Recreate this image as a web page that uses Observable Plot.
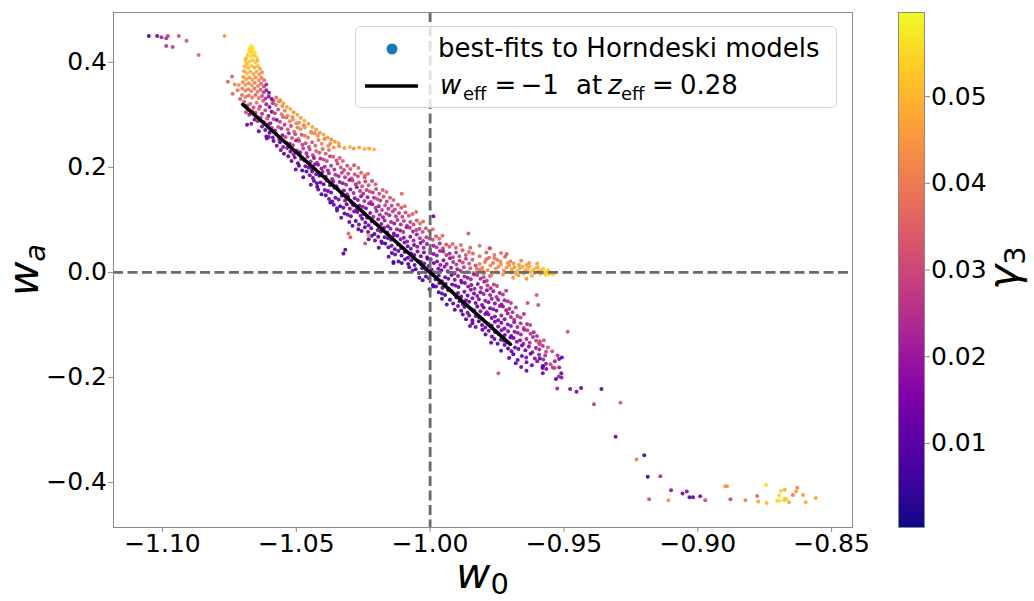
<!DOCTYPE html>
<html><head><meta charset="utf-8">
<script src="https://cdn.jsdelivr.net/npm/d3@7"></script>
<script src="https://cdn.jsdelivr.net/npm/@observablehq/plot@0.6"></script>
<style>
html,body{margin:0;padding:0;background:#fff;}
#wrap{position:relative;width:1034px;height:601px;overflow:hidden;font-family:"DejaVu Sans",sans-serif;}
#wrap svg{position:absolute;top:0;}
</style></head><body><div id="wrap"></div>
<script>
// ---- tick labels / scales ----
const xTicks = [-1.10, -1.05, -1.00, -0.95, -0.90, -0.85];
const yTicks = [-0.4, -0.2, 0.0, 0.2, 0.4];
const cbTicks = [0.01, 0.02, 0.03, 0.04, 0.05];
const cbDomain = [0.0003, 0.0597];
// reference line w_eff = -1 at z_eff = 0.28
const effW0 = [-1.07, -0.97];
const effWa = [0.32, -0.137];
const legendLabels = ["best-fits to Horndeski models", "w_eff = −1 at z_eff = 0.28"];

// ---- best-fit points: [w0, wa, gamma3] ----
const bandPts = [
[-1.0695,.325,.034],[-1.0683,.318,.028],[-1.0672,.321,.036],[-1.0660,.314,.031],[-1.0648,.323,.038],[-1.0636,.316,.026],[-1.0624,.327,.033],[-1.0612,.320,.020],[-1.0600,.315,.016],[-1.0588,.322,.024],[-1.0576,.319,.035],[-1.0563,.326,.040],[-1.0552,.317,.042],
[-1.0688,.305,.030],[-1.0676,.300,.022],[-1.0664,.307,.034],[-1.0652,.304,.027],[-1.0640,.311,.035],[-1.0628,.302,.024],[-1.0616,.309,.031],[-1.0604,.298,.018],[-1.0592,.306,.014],[-1.0580,.303,.026],[-1.0568,.310,.033],[-1.0555,.301,.038],[-1.0543,.308,.041],[-1.0532,.299,.044],
[-1.0668,.283,.018],[-1.0656,.291,.012],[-1.0645,.288,.024],[-1.0633,.295,.030],[-1.0621,.286,.022],[-1.0609,.293,.033],[-1.0597,.284,.019],[-1.0585,.292,.027],[-1.0573,.290,.015],[-1.0561,.287,.029],[-1.0549,.296,.034],[-1.0537,.295,.037],[-1.0524,.288,.040],[-1.0512,.291,.043],[-1.0500,.284,.041],
[-1.0640,.269,.010],[-1.0628,.278,.016],[-1.0616,.271,.013],[-1.0604,.282,.021],[-1.0592,.275,.026],[-1.0580,.270,.018],[-1.0568,.277,.031],[-1.0556,.274,.023],[-1.0544,.281,.028],[-1.0532,.272,.033],[-1.0520,.279,.030],[-1.0508,.268,.036],[-1.0496,.276,.039],[-1.0484,.273,.042],[-1.0472,.280,.040],
[-1.0612,.259,.011],[-1.0600,.266,.008],[-1.0588,.257,.015],[-1.0576,.264,.019],[-1.0564,.253,.024],[-1.0552,.261,.017],[-1.0540,.258,.027],[-1.0528,.265,.021],[-1.0516,.256,.032],[-1.0504,.263,.029],[-1.0492,.254,.035],[-1.0480,.262,.033],[-1.0468,.260,.038],[-1.0456,.257,.040],[-1.0444,.266,.043],[-1.0432,.265,.041],
[-1.0585,.250,.010],[-1.0573,.241,.014],[-1.0561,.248,.009],[-1.0549,.239,.018],[-1.0537,.247,.022],[-1.0525,.245,.016],[-1.0513,.242,.025],[-1.0501,.251,.020],[-1.0489,.250,.029],[-1.0477,.243,.026],[-1.0465,.246,.031],[-1.0453,.239,.028],[-1.0441,.248,.034],[-1.0429,.241,.036],[-1.0417,.252,.039],[-1.0405,.245,.041],
[-1.0558,.233,.012],[-1.0546,.226,.008],[-1.0534,.237,.016],[-1.0522,.230,.013],[-1.0510,.225,.019],[-1.0498,.232,.024],[-1.0486,.229,.017],[-1.0474,.236,.027],[-1.0462,.227,.022],[-1.0450,.234,.030],[-1.0438,.223,.026],[-1.0426,.231,.033],[-1.0414,.228,.031],[-1.0402,.235,.036],[-1.0390,.226,.034],[-1.0378,.233,.038],
[-1.0530,.221,.009],[-1.0518,.212,.012],[-1.0506,.219,.015],[-1.0494,.208,.011],[-1.0482,.216,.018],[-1.0470,.213,.016],[-1.0458,.220,.020],[-1.0446,.211,.023],[-1.0434,.218,.018],[-1.0422,.209,.025],[-1.0410,.217,.022],[-1.0398,.215,.028],[-1.0386,.212,.030],[-1.0374,.221,.027],[-1.0362,.220,.033],[-1.0350,.213,.031],[-1.0338,.218,.032],[-1.0326,.212,.035],
[-1.0502,.196,.013],[-1.0490,.203,.010],[-1.0478,.194,.007],[-1.0466,.202,.014],[-1.0454,.200,.012],[-1.0442,.197,.017],[-1.0430,.206,.015],[-1.0418,.205,.020],[-1.0406,.198,.018],[-1.0394,.201,.022],[-1.0382,.194,.020],[-1.0370,.203,.026],[-1.0358,.196,.024],[-1.0346,.207,.029],[-1.0334,.200,.031],[-1.0322,.195,.028],[-1.0310,.203,.030],[-1.0298,.197,.033],[-1.0284,.204,.031],[-1.0268,.199,.036],
[-1.0474,.181,.011],[-1.0462,.192,.008],[-1.0450,.185,.014],[-1.0438,.180,.012],[-1.0426,.187,.016],[-1.0414,.184,.009],[-1.0402,.191,.018],[-1.0390,.182,.016],[-1.0378,.189,.021],[-1.0366,.178,.019],[-1.0354,.186,.024],[-1.0342,.183,.022],[-1.0330,.190,.027],[-1.0318,.181,.025],[-1.0306,.188,.030],[-1.0294,.179,.028],[-1.0282,.187,.032],[-1.0270,.183,.030],[-1.0258,.190,.033],[-1.0245,.181,.031],[-1.0232,.188,.037],
[-1.0446,.167,.012],[-1.0434,.174,.010],[-1.0422,.163,.006],[-1.0410,.171,.014],[-1.0398,.168,.011],[-1.0386,.175,.016],[-1.0374,.166,.013],[-1.0362,.173,.018],[-1.0350,.164,.016],[-1.0338,.172,.020],[-1.0326,.170,.018],[-1.0314,.167,.023],[-1.0302,.176,.020],[-1.0290,.175,.026],[-1.0278,.168,.024],[-1.0266,.171,.029],[-1.0254,.164,.031],[-1.0242,.173,.028],[-1.0230,.166,.032],[-1.0217,.174,.030],[-1.0204,.168,.035],
[-1.0418,.158,.012],[-1.0406,.149,.007],[-1.0394,.157,.014],[-1.0382,.155,.011],[-1.0370,.152,.013],[-1.0358,.161,.016],[-1.0346,.160,.009],[-1.0334,.153,.018],[-1.0322,.156,.015],[-1.0310,.149,.020],[-1.0298,.158,.017],[-1.0286,.151,.022],[-1.0274,.162,.019],[-1.0262,.155,.025],[-1.0250,.150,.023],[-1.0238,.157,.028],[-1.0226,.154,.030],[-1.0214,.152,.027],[-1.0202,.159,.031],[-1.0190,.150,.029],[-1.0177,.157,.033],[-1.0163,.153,.036],
[-1.0390,.147,.010],[-1.0378,.140,.013],[-1.0366,.135,.008],[-1.0354,.142,.012],[-1.0342,.139,.015],[-1.0330,.146,.010],[-1.0318,.137,.016],[-1.0306,.144,.014],[-1.0294,.133,.018],[-1.0282,.141,.016],[-1.0270,.138,.020],[-1.0258,.145,.018],[-1.0246,.136,.023],[-1.0234,.143,.020],[-1.0222,.134,.026],[-1.0210,.142,.024],[-1.0198,.140,.029],[-1.0186,.137,.026],[-1.0174,.144,.030],[-1.0162,.135,.028],[-1.0150,.142,.032],[-1.0137,.138,.035],
[-1.0360,.129,.012],[-1.0348,.118,.009],[-1.0336,.126,.006],[-1.0324,.123,.014],[-1.0312,.130,.011],[-1.0300,.121,.016],[-1.0288,.128,.012],[-1.0276,.119,.017],[-1.0264,.127,.014],[-1.0252,.125,.019],[-1.0240,.122,.016],[-1.0228,.131,.021],[-1.0216,.130,.018],[-1.0204,.123,.024],[-1.0192,.126,.020],[-1.0180,.119,.027],[-1.0168,.128,.030],[-1.0156,.121,.025],[-1.0144,.127,.027],[-1.0132,.120,.029],[-1.0120,.129,.031],[-1.0108,.123,.033],[-1.0095,.126,.036],
[-1.0332,.104,.011],[-1.0320,.112,.007],[-1.0308,.110,.013],[-1.0296,.107,.010],[-1.0284,.116,.014],[-1.0272,.115,.012],[-1.0260,.108,.016],[-1.0248,.111,.014],[-1.0236,.104,.018],[-1.0224,.113,.016],[-1.0212,.106,.020],[-1.0200,.117,.018],[-1.0188,.110,.022],[-1.0176,.105,.020],[-1.0164,.112,.025],[-1.0152,.109,.023],[-1.0140,.116,.028],[-1.0128,.107,.026],[-1.0116,.113,.025],[-1.0104,.106,.028],[-1.0092,.114,.030],[-1.0080,.108,.032],[-1.0066,.111,.035],[-1.0052,.115,.037],
[-1.0302,.096,.012],[-1.0290,.089,.008],[-1.0278,.098,.005],[-1.0266,.091,.012],[-1.0254,.102,.010],[-1.0242,.095,.014],[-1.0230,.090,.012],[-1.0218,.097,.016],[-1.0206,.094,.014],[-1.0194,.101,.018],[-1.0182,.092,.016],[-1.0170,.099,.020],[-1.0158,.088,.017],[-1.0146,.096,.022],[-1.0134,.093,.019],[-1.0122,.100,.025],[-1.0110,.091,.023],[-1.0098,.098,.028],[-1.0086,.089,.026],[-1.0074,.096,.028],[-1.0062,.091,.030],[-1.0050,.099,.032],[-1.0038,.093,.035],[-1.0026,.097,.037],
[-1.0268,.082,.010],[-1.0256,.079,.012],[-1.0244,.086,.007],[-1.0232,.077,.011],[-1.0220,.084,.014],[-1.0208,.073,.009],[-1.0196,.081,.015],[-1.0184,.078,.012],[-1.0172,.085,.017],[-1.0160,.076,.014],[-1.0148,.083,.018],[-1.0136,.074,.016],[-1.0124,.082,.020],[-1.0112,.080,.018],[-1.0100,.077,.023],[-1.0088,.086,.020],[-1.0076,.085,.025],[-1.0064,.078,.022],[-1.0052,.081,.027],[-1.0040,.083,.028],[-1.0028,.077,.030],[-1.0016,.084,.032],[-1.0004,.079,.035],[-0.9990,.082,.037],
[-1.0230,.063,.009],[-1.0218,.070,.006],[-1.0206,.061,.012],[-1.0194,.068,.008],[-1.0182,.059,.013],[-1.0170,.067,.011],[-1.0158,.065,.014],[-1.0146,.062,.012],[-1.0134,.071,.016],[-1.0122,.070,.014],[-1.0110,.063,.018],[-1.0098,.066,.016],[-1.0086,.059,.020],[-1.0074,.068,.017],[-1.0062,.061,.021],[-1.0050,.072,.019],[-1.0038,.065,.024],[-1.0026,.060,.022],[-1.0014,.067,.026],[-1.0002,.064,.029],[-0.9990,.062,.030],[-0.9978,.069,.032],[-0.9966,.064,.035],[-0.9954,.070,.036],
[-1.0192,.047,.008],[-1.0180,.056,.011],[-1.0168,.055,.006],[-1.0156,.048,.010],[-1.0144,.051,.012],[-1.0132,.044,.009],[-1.0120,.053,.014],[-1.0108,.046,.012],[-1.0096,.057,.015],[-1.0084,.050,.013],[-1.0072,.045,.016],[-1.0060,.052,.014],[-1.0048,.049,.018],[-1.0036,.056,.016],[-1.0024,.047,.020],[-1.0012,.054,.018],[-1.0000,.043,.022],[-0.9988,.051,.020],[-0.9976,.048,.025],[-0.9964,.055,.023],[-0.9952,.046,.028],[-0.9940,.053,.031],[-0.9928,.049,.032],[-0.9916,.054,.035],[-0.9904,.047,.036],[-0.9885,.052,.037],[-0.9850,.047,.035],[-0.9815,.051,.038],[-0.9778,.046,.036],
[-1.0155,.030,.010],[-1.0143,.037,.007],[-1.0131,.034,.012],[-1.0119,.041,.009],[-1.0107,.032,.005],[-1.0095,.039,.012],[-1.0083,.028,.010],[-1.0071,.036,.014],[-1.0059,.033,.012],[-1.0047,.040,.015],[-1.0035,.031,.013],[-1.0023,.038,.016],[-1.0011,.029,.014],[-0.9999,.037,.018],[-0.9987,.035,.016],[-0.9975,.032,.019],[-0.9963,.041,.021],[-0.9951,.040,.020],[-0.9939,.033,.024],[-0.9927,.036,.022],[-0.9915,.029,.027],[-0.9903,.038,.025],[-0.9891,.031,.030],[-0.9879,.042,.032],[-0.9867,.033,.033],[-0.9855,.039,.036],[-0.9840,.036,.036],[-0.9815,.031,.037],[-0.9790,.038,.035],[-0.9760,.033,.038],[-0.9735,.037,.036],
[-1.0118,.021,.009],[-1.0106,.018,.006],[-1.0094,.025,.011],[-1.0082,.016,.008],[-1.0070,.023,.012],[-1.0058,.014,.010],[-1.0046,.022,.004],[-1.0034,.020,.012],[-1.0022,.017,.014],[-1.0010,.026,.011],[-0.9998,.025,.015],[-0.9986,.018,.013],[-0.9974,.021,.016],[-0.9962,.014,.018],[-0.9950,.023,.017],[-0.9938,.016,.020],[-0.9926,.027,.019],[-0.9914,.020,.023],[-0.9902,.015,.026],[-0.9890,.022,.024],[-0.9878,.019,.029],[-0.9866,.026,.027],[-0.9854,.017,.031],[-0.9842,.024,.033],[-0.9830,.013,.030],
[-1.0078,.010,.008],[-1.0066,.003,.011],[-1.0054,.006,.006],[-1.0042,-.001,.009],[-1.0030,.008,.012],[-1.0018,.001,.007],[-1.0006,.012,.012],[-0.9994,.005,.014],[-0.9982,.000,.010],[-0.9970,.007,.015],[-0.9958,.004,.013],[-0.9946,.011,.017],[-0.9934,.002,.016],[-0.9922,.009,.019],[-0.9910,-.002,.021],[-0.9898,.006,.020],[-0.9886,.003,.024],[-0.9874,.010,.026],[-0.9862,.001,.029],[-0.9850,.008,.032],[-0.9838,-.001,.035],[-0.9826,.007,.038],[-0.9814,.005,.037],[-0.9802,.002,.040],
[-1.0040,-.010,.009],[-1.0028,-.015,.006],[-1.0016,-.008,.011],[-1.0004,-.011,.008],[-0.9992,-.004,.004],[-0.9980,-.013,.012],[-0.9968,-.006,.009],[-0.9956,-.017,.013],[-0.9944,-.009,.011],[-0.9932,-.012,.014],[-0.9920,-.005,.012],[-0.9908,-.014,.016],[-0.9896,-.007,.018],[-0.9884,-.016,.016],[-0.9872,-.008,.020],[-0.9860,-.010,.018],[-0.9848,-.013,.022],[-0.9836,-.004,.020],[-0.9824,-.005,.025],[-0.9812,-.012,.023],[-0.9800,-.009,.028],[-0.9788,-.016,.026],[-0.9776,-.007,.031],
[-1.0002,-.032,.008],[-0.9990,-.024,.005],[-0.9978,-.027,.010],[-0.9966,-.020,.007],[-0.9954,-.029,.012],[-0.9942,-.022,.009],[-0.9930,-.031,.013],[-0.9918,-.023,.011],[-0.9906,-.025,.014],[-0.9894,-.028,.012],[-0.9882,-.019,.016],[-0.9870,-.020,.014],[-0.9858,-.027,.018],[-0.9846,-.024,.016],[-0.9834,-.031,.020],[-0.9822,-.022,.018],[-0.9810,-.029,.022],[-0.9798,-.018,.020],[-0.9786,-.025,.024],[-0.9774,-.030,.022],[-0.9762,-.023,.026],[-0.9750,-.026,.028],
[-0.9968,-.038,.007],[-0.9956,-.040,.011],[-0.9944,-.043,.005],[-0.9932,-.034,.009],[-0.9920,-.035,.012],[-0.9908,-.042,.010],[-0.9896,-.039,.014],[-0.9884,-.046,.012],[-0.9872,-.037,.015],[-0.9860,-.044,.013],[-0.9848,-.033,.016],[-0.9836,-.040,.014],[-0.9824,-.045,.018],[-0.9812,-.038,.016],[-0.9800,-.041,.019],[-0.9788,-.034,.017],[-0.9776,-.043,.020],[-0.9764,-.036,.018],[-0.9752,-.047,.022],[-0.9740,-.039,.020],[-0.9728,-.042,.024],[-0.9716,-.035,.026],
[-0.9938,-.061,.009],[-0.9926,-.052,.006],[-0.9914,-.059,.011],[-0.9902,-.048,.008],[-0.9890,-.055,.012],[-0.9878,-.060,.010],[-0.9866,-.053,.014],[-0.9854,-.056,.012],[-0.9842,-.049,.015],[-0.9830,-.058,.013],[-0.9818,-.051,.016],[-0.9806,-.062,.014],[-0.9794,-.054,.018],[-0.9782,-.057,.016],[-0.9770,-.050,.019],[-0.9758,-.059,.017],[-0.9746,-.052,.020],[-0.9734,-.061,.018],[-0.9722,-.053,.022],[-0.9710,-.055,.024],[-0.9698,-.058,.026],
[-0.9908,-.071,.008],[-0.9896,-.064,.012],[-0.9884,-.073,.006],[-0.9872,-.066,.010],[-0.9860,-.077,.013],[-0.9848,-.069,.011],[-0.9836,-.072,.014],[-0.9824,-.065,.012],[-0.9812,-.074,.016],[-0.9800,-.067,.014],[-0.9788,-.076,.017],[-0.9776,-.068,.015],[-0.9764,-.070,.018],[-0.9752,-.073,.016],[-0.9740,-.064,.020],[-0.9728,-.065,.018],[-0.9716,-.072,.021],[-0.9704,-.069,.023],[-0.9692,-.076,.025],[-0.9680,-.067,.027],
[-0.9878,-.080,.010],[-0.9866,-.089,.007],[-0.9854,-.082,.012],[-0.9842,-.091,.009],[-0.9830,-.083,.013],[-0.9818,-.085,.011],[-0.9806,-.088,.014],[-0.9794,-.079,.012],[-0.9782,-.080,.016],[-0.9770,-.087,.014],[-0.9758,-.084,.017],[-0.9746,-.091,.015],[-0.9734,-.082,.018],[-0.9722,-.089,.016],[-0.9710,-.078,.020],[-0.9698,-.085,.021],[-0.9686,-.090,.023],[-0.9674,-.083,.025],[-0.9662,-.086,.027],[-0.9650,-.079,.024],
[-0.9842,-.097,.009],[-0.9830,-.104,.012],[-0.9818,-.093,.007],[-0.9806,-.100,.011],[-0.9794,-.105,.013],[-0.9782,-.098,.010],[-0.9770,-.101,.014],[-0.9758,-.094,.012],[-0.9746,-.103,.016],[-0.9734,-.096,.014],[-0.9722,-.107,.017],[-0.9710,-.099,.015],[-0.9698,-.102,.018],[-0.9686,-.095,.020],[-0.9674,-.104,.022],[-0.9662,-.097,.024],[-0.9650,-.106,.026],[-0.9638,-.098,.023],[-0.9626,-.100,.028],
[-0.9805,-.109,.011],[-0.9793,-.118,.008],[-0.9781,-.111,.012],[-0.9769,-.122,.010],[-0.9757,-.114,.014],[-0.9745,-.117,.012],[-0.9733,-.110,.015],[-0.9721,-.119,.013],[-0.9709,-.112,.016],[-0.9697,-.121,.014],[-0.9685,-.113,.018],[-0.9673,-.115,.020],[-0.9661,-.118,.021],[-0.9649,-.109,.023],[-0.9637,-.110,.025],[-0.9625,-.117,.027],[-0.9613,-.114,.022],[-0.9601,-.121,.026],
[-0.9772,-.134,.010],[-0.9760,-.127,.012],[-0.9748,-.136,.008],[-0.9736,-.128,.012],[-0.9724,-.130,.014],[-0.9712,-.133,.011],[-0.9700,-.124,.015],[-0.9688,-.125,.013],[-0.9676,-.132,.016],[-0.9664,-.129,.018],[-0.9652,-.136,.020],[-0.9640,-.127,.022],[-0.9628,-.134,.025],[-0.9616,-.123,.023],[-0.9604,-.130,.027],[-0.9592,-.135,.020],
[-0.9735,-.149,.009],[-0.9722,-.138,.012],[-0.9709,-.145,.007],[-0.9696,-.150,.011],[-0.9683,-.143,.013],[-0.9670,-.146,.010],[-0.9657,-.139,.014],[-0.9644,-.148,.012],[-0.9631,-.141,.016],[-0.9618,-.152,.018],[-0.9605,-.144,.020],[-0.9592,-.147,.023],[-0.9579,-.140,.025],
[-0.9705,-.163,.011],[-0.9689,-.156,.008],[-0.9673,-.167,.013],[-0.9657,-.159,.012],[-0.9641,-.162,.016],[-0.9625,-.155,.014],[-0.9609,-.164,.018],[-0.9593,-.157,.020],[-0.9577,-.166,.023],
[-0.9680,-.173,.010],[-0.9660,-.180,.012],[-0.9640,-.171,.014],[-0.9620,-.177,.012],[-0.9600,-.169,.017],[-0.9580,-.179,.020]
];
const outlierPts = [
[-0.9745,-.192,.033],[-0.9640,-.187,.012],[-0.9596,-.062,.031],[-0.9602,-.043,.032],[-0.9636,-.058,.030],[-0.9857,.074,.034],[-0.9988,.107,.012],[-1.0137,.020,.008],[-0.9956,-.050,.008],[-0.9851,-.102,.012],[-0.9988,-.027,.006],[-1.0373,.133,.010],[-1.0348,.122,.012],[-1.0305,.074,.035],[-1.0298,.067,.033],[-1.0230,.071,.045],[-1.0317,.043,.010],[-1.0324,.036,.009],[-1.0243,.055,.031],[-1.0137,.018,.007],[-1.0243,.185,.038],[-1.0106,.150,.036],[-1.0441,.192,.012],[-1.0423,.170,.010]
];
const armPts = [
[-1.0585,.327,.030],[-1.0575,.333,.036],[-1.0565,.326,.039],
[-1.0560,.328,.045],[-1.0548,.322,.047],[-1.0535,.315,.046],[-1.0522,.311,.048],[-1.0510,.305,.045],[-1.0496,.300,.047],[-1.0483,.294,.046],[-1.0470,.289,.048],[-1.0455,.283,.045],[-1.0440,.277,.047],[-1.0426,.272,.046],[-1.0412,.266,.044],[-1.0398,.262,.046],[-1.0384,.257,.045],[-1.0370,.253,.043],[-1.0356,.249,.045],[-1.0342,.246,.047],[-1.0395,.254,.041],[-1.0420,.260,.042],[-1.0445,.268,.043],[-1.0468,.276,.044],[-1.0490,.285,.042],[-1.0515,.296,.043],
[-1.0380,.241,.042],[-1.0360,.238,.045],[-1.0340,.240,.043],[-1.0320,.237,.046],[-1.0300,.239,.048],[-1.0285,.236,.044],[-1.0265,.238,.047],[-1.0245,.235,.049],[-1.0228,.236,.046],[-1.0210,.234,.050],[-1.0373,.2457,.044]
];
const headPts = [
[-1.0668,.431,.058],[-1.0663,.428,.057],[-1.0673,.427,.056],
[-1.0677,.422,.055],[-1.0660,.423,.057],[-1.0668,.419,.054],[-1.0655,.418,.056],
[-1.0682,.414,.053],[-1.0670,.412,.055],[-1.0658,.413,.052],[-1.0649,.410,.054],[-1.0688,.408,.050],
[-1.0690,.403,.052],[-1.0676,.401,.054],[-1.0664,.404,.051],[-1.0652,.400,.053],[-1.0645,.404,.049],[-1.0684,.397,.050],
[-1.0693,.392,.049],[-1.0680,.389,.051],[-1.0668,.393,.052],[-1.0656,.390,.048],[-1.0644,.393,.050],[-1.0636,.388,.047],
[-1.0695,.383,.047],[-1.0685,.379,.050],[-1.0672,.382,.048],[-1.0660,.378,.046],[-1.0648,.382,.049],[-1.0638,.377,.045],[-1.0628,.381,.043],
[-1.0698,.372,.045],[-1.0688,.368,.047],[-1.0676,.371,.044],[-1.0664,.367,.046],[-1.0652,.371,.043],[-1.0640,.366,.044],[-1.0630,.370,.040],[-1.0620,.366,.038],
[-1.0700,.362,.043],[-1.0690,.357,.045],[-1.0678,.360,.042],[-1.0666,.356,.044],[-1.0655,.361,.041],[-1.0643,.355,.040],[-1.0632,.359,.036],[-1.0621,.354,.030],[-1.0612,.358,.022],
[-1.0702,.350,.041],[-1.0691,.346,.043],[-1.0680,.349,.040],[-1.0668,.345,.042],[-1.0656,.350,.038],[-1.0645,.344,.039],[-1.0633,.348,.034],[-1.0622,.343,.028],[-1.0612,.347,.020],[-1.0602,.342,.016],
[-1.0703,.338,.038],[-1.0690,.334,.040],[-1.0678,.337,.037],[-1.0665,.333,.039],[-1.0652,.338,.036],[-1.0640,.332,.037],[-1.0628,.336,.030],[-1.0615,.331,.024],[-1.0603,.335,.018],[-1.0592,.330,.014],
[-1.0740,.373,.035],[-1.0756,.363,.036],[-1.0730,.358,.042],[-1.0715,.357,.044],[-1.0738,.340,.037],[-1.0710,.330,.034],[-1.0719,.347,.040],
[-1.0684,.281,.012],[-1.0610,.255,.014],[-1.0603,.258,.016]
];
const tailPts = [
[-0.9815,.016,.040],[-0.9805,.009,.042],[-0.9795,.020,.039],[-0.9785,.004,.041],[-0.9775,.013,.043],[-0.9765,.018,.038],[-0.9755,.007,.044],[-0.9745,.011,.042],[-0.9735,.015,.045],[-0.9725,.003,.043],[-0.9715,.009,.046],[-0.9705,.013,.044],[-0.9695,.006,.047],[-0.9685,.010,.045],[-0.9675,.002,.048],[-0.9665,.008,.046],[-0.9655,.011,.049],[-0.9645,.004,.047],[-0.9635,.007,.050],[-0.9625,.001,.048],[-0.9615,.005,.051],[-0.9605,.008,.049],[-0.9595,.002,.052],[-0.9585,.004,.050],[-0.9575,-.001,.053],[-0.9565,.002,.051],[-0.9558,-.003,.054],[-0.9550,.000,.055],[-0.9543,-.004,.056],[-0.9537,-.002,.055],
[-0.9690,-.010,.045],[-0.9670,-.006,.047],[-0.9640,-.012,.043],[-0.9620,-.007,.049],
[-0.9780,.028,.036],[-0.9750,.024,.038],[-0.9720,.030,.034],[-0.9700,.021,.040],[-0.9660,.022,.041],[-0.9630,.018,.044],[-0.9600,.017,.046],[-0.9714,.035,.033],[-0.9776,.046,.030],
[-0.9800,-.002,.040],[-0.9790,.025,.037],[-0.9770,-.005,.042],[-0.9760,.027,.039],[-0.9748,.000,.044],[-0.9738,.021,.041],[-0.9728,-.004,.045],[-0.9710,.018,.043],[-0.9698,.000,.046],[-0.9688,.017,.044],[-0.9678,-.003,.047],[-0.9668,.014,.045],[-0.9650,-.002,.048],[-0.9640,.014,.046],[-0.9628,.011,.048],[-0.9610,-.001,.050],[-0.9598,.010,.049],[-0.9588,-.003,.051],[-0.9578,.007,.052],[-0.9568,-.005,.053],[-0.9560,.004,.054]
];
const lowerPts = [
[-0.9486,-.113,.032],[-0.9590,-.131,.031],[-0.9575,-.129,.033],[-0.9590,-.137,.030],[-0.9560,-.143,.032],[-0.9567,-.151,.029],[-0.9544,-.150,.031],[-0.9570,-.158,.024],[-0.9524,-.158,.025],[-0.9590,-.164,.012],[-0.9518,-.165,.016],[-0.9508,-.162,.010],[-0.9534,-.169,.023],[-0.9567,-.174,.018],[-0.9578,-.178,.008],[-0.9580,-.182,.011],[-0.9566,-.184,.017],[-0.9550,-.175,.030],[-0.9542,-.181,.027],[-0.9535,-.182,.029],[-0.9518,-.181,.020],[-0.9579,-.192,.013],[-0.9510,-.192,.014],[-0.9519,-.198,.021],[-0.9509,-.200,.019],[-0.9530,-.203,.009],[-0.9525,-.221,.022],[-0.9477,-.222,.016],[-0.9453,-.227,.014],[-0.9436,-.220,.012],[-0.9360,-.222,.011],[-0.9388,-.251,.028],[-0.9289,-.248,.034],[-0.9307,-.313,.013],[-0.9200,-.348,.008],[-0.9229,-.356,.040],[-0.9187,-.389,.006],[-0.9140,-.388,.024],[-0.9182,-.432,.030],[-0.9100,-.415,.018],[-0.9057,-.421,.015],[-0.9041,-.417,.017],[-0.9031,-.428,.010],[-0.9018,-.428,.012],[-0.8991,-.426,.017],[-0.8972,-.434,.031],[-0.9110,-.434,.045],[-0.8878,-.432,.030],[-0.8898,-.407,.047],[-0.8891,-.407,.043],[-0.8822,-.434,.042],[-0.8778,-.4255,.036],[-0.8774,-.436,.048],[-0.8745,-.405,.057],[-0.8743,-.439,.050],[-0.8704,-.435,.056],[-0.8696,-.435,.055],[-0.8689,-.416,.054],[-0.8675,-.414,.049],[-0.8696,-.425,.055],[-0.8675,-.430,.056],[-0.8678,-.434,.054],[-0.8670,-.432,.052],[-0.8659,-.4375,.048],[-0.8645,-.4236,.040],[-0.8633,-.417,.046],[-0.8628,-.410,.042],[-0.8607,-.4236,.046],[-0.8597,-.4375,.049],[-0.8559,-.4293,.047]
];
const farPts = [
[-1.1051,.450,.008],[-1.1020,.450,.015],[-1.1004,.448,.022],[-1.0986,.446,.025],[-1.0980,.450,.027],[-1.0939,.450,.032],[-1.0910,.441,.033],[-1.0986,.431,.026],[-1.0962,.429,.028],[-1.0865,.414,.036],[-1.0768,.450,.045]
];

const allPts = [...bandPts, ...outlierPts, ...armPts, ...headPts, ...tailPts, ...lowerPts, ...farPts];
const effLine = effW0.map((w, i) => ({w0: w, wa: effWa[i]}));

const FONT = "DejaVu Sans";
const GRAY = "#888";
const colorOpts = () => ({type: "linear", scheme: "plasma", domain: cbDomain});

const main = Plot.plot({
  width: 1034, height: 601,
  marginLeft: 113, marginRight: 182, marginTop: 12, marginBottom: 74,
  x: {domain: [-1.1183, -0.8422]},
  y: {domain: [-0.4857, 0.4949]},
  color: colorOpts(),
  style: {fontFamily: FONT, fontSize: "25px", background: "transparent", overflow: "visible", color: "black"},
  marks: [
    Plot.dot(allPts, {x: d => d[0], y: d => d[1], fill: d => d[2], r: 2.0, fillOpacity: 0.92}),
    Plot.ruleX([-1.0], {stroke: "#6a6a6a", strokeWidth: 2.8, strokeDasharray: "10,4.5"}),
    Plot.ruleY([0.0], {stroke: "#6a6a6a", strokeWidth: 2.8, strokeDasharray: "10,4.5"}),
    Plot.line(effLine, {x: "w0", y: "wa", stroke: "black", strokeWidth: 3.6}),
    Plot.frame({stroke: GRAY}),
    Plot.axisX({ticks: xTicks, tickFormat: d3.format(".2f"), tickSize: 5, tickPadding: 1.5, stroke: GRAY, fill: "black", label: null, fontSize: 25}),
    Plot.axisY({ticks: yTicks, tickFormat: d3.format(".1f"), tickSize: 5, tickPadding: 1.5, stroke: GRAY, fill: "black", label: null, fontSize: 25})
  ]
});
main.style.left = "0px";
document.getElementById("wrap").appendChild(main);

const svg = d3.select(main);
// axis labels
const xl = svg.append("text").attr("x", 482.5).attr("y", 588).attr("text-anchor", "middle")
  .attr("font-family", FONT).attr("font-size", 42).attr("fill", "black");
xl.append("tspan").attr("font-style", "italic").text("w");
xl.append("tspan").attr("font-size", 29).attr("dy", 6).text("0");

const yl = svg.append("text").attr("transform", "translate(38,270) rotate(-90)").attr("text-anchor", "middle")
  .attr("font-family", FONT).attr("font-size", 42).attr("fill", "black");
yl.append("tspan").attr("font-style", "italic").text("w");
yl.append("tspan").attr("font-style", "italic").attr("font-size", 29).attr("dy", 7).text("a");

// legend
const lg = svg.append("g").attr("font-family", FONT).attr("fill", "black").attr("text-anchor", "start");
lg.append("rect").attr("x", 355.5).attr("y", 26.5).attr("width", 481).attr("height", 81).attr("rx", 5)
  .attr("fill", "white").attr("fill-opacity", 0.8).attr("stroke", "#d3d3d3").attr("stroke-width", 1);
lg.append("circle").attr("cx", 392).attr("cy", 49).attr("r", 5.5).attr("fill", "#1f77b4");
lg.append("line").attr("x1", 365).attr("x2", 418).attr("y1", 86).attr("y2", 86).attr("stroke", "black").attr("stroke-width", 3.6);
lg.append("text").attr("x", 438).attr("y", 57).attr("font-size", 26).attr("text-anchor", "start").text(legendLabels[0]);
const t2 = lg.append("text").attr("font-size", 26).attr("text-anchor", "start");
t2.append("tspan").attr("x", 440).attr("y", 94).attr("font-style", "italic").text("w");
t2.append("tspan").attr("x", 463).attr("y", 100).attr("font-size", 18).text("eff");
t2.append("tspan").attr("x", 494.5).attr("y", 94).text("=");
t2.append("tspan").attr("x", 520.5).attr("y", 94).text("−1");
t2.append("tspan").attr("x", 576).attr("y", 94).text("at");
t2.append("tspan").attr("x", 608).attr("y", 94).attr("font-style", "italic").text("z");
t2.append("tspan").attr("x", 621).attr("y", 100).attr("font-size", 18).text("eff");
t2.append("tspan").attr("x", 652).attr("y", 94).text("=");
t2.append("tspan").attr("x", 680).attr("y", 94).text("0.28");
t2.append("title").text(legendLabels[1]);

// colorbar
const nSteps = 160;
const cbSteps = d3.range(nSteps).map(i => {
  const v0 = cbDomain[0] + i * (cbDomain[1] - cbDomain[0]) / nSteps;
  const v1 = cbDomain[0] + (i + 1) * (cbDomain[1] - cbDomain[0]) / nSteps;
  return {a: 0, b: 1, v0, v1, vm: (v0 + v1) / 2};
});
const cb = Plot.plot({
  width: 136, height: 601,
  marginLeft: 0, marginRight: 110, marginTop: 12, marginBottom: 74,
  x: {domain: [0, 1], axis: null},
  y: {domain: cbDomain},
  color: colorOpts(),
  style: {fontFamily: FONT, fontSize: "25px", background: "transparent", overflow: "visible", color: "black"},
  marks: [
    Plot.rect(cbSteps, {x1: "a", x2: "b", y1: "v0", y2: "v1", fill: "vm", shapeRendering: "crispEdges"}),
    Plot.frame({stroke: GRAY}),
    Plot.axisY({anchor: "right", ticks: cbTicks, tickFormat: d3.format(".2f"), tickSize: 5, tickPadding: 1.5, stroke: GRAY, fill: "black", label: null, fontSize: 25})
  ]
});
cb.style.left = "898px";
document.getElementById("wrap").appendChild(cb);

const cl = d3.select(cb).append("text").attr("transform", "translate(120,268) rotate(-90)").attr("text-anchor", "middle")
  .attr("font-family", FONT).attr("font-size", 42).attr("fill", "black");
cl.append("tspan").attr("font-style", "italic").text("γ");
cl.append("tspan").attr("font-size", 29).attr("dy", 7).text("3");
</script>
</body></html>
